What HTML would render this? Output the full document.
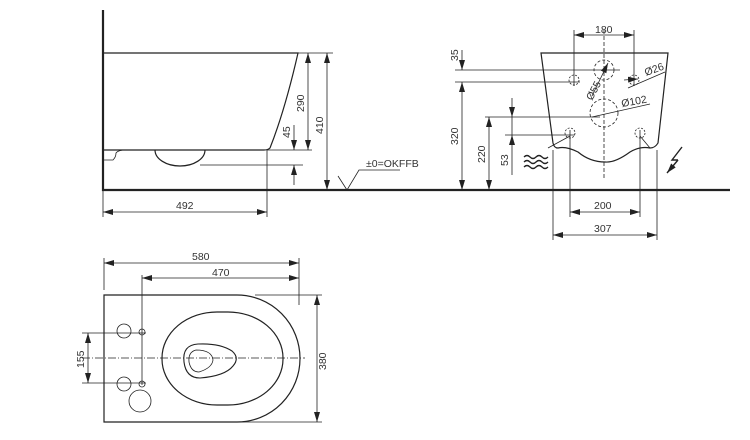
<!DOCTYPE html>
<html><head><style>body{margin:0;background:#fff}svg{display:block}text{font-family:"Liberation Sans",sans-serif;font-size:10.5px;fill:#333}</style></head><body>
<svg width="750" height="440" viewBox="0 0 750 440" xmlns="http://www.w3.org/2000/svg">
<defs><marker id="a" viewBox="0 0 10 6" refX="10" refY="3" markerWidth="10" markerHeight="6" orient="auto-start-reverse" markerUnits="userSpaceOnUse"><path d="M0,0L10,3L0,6z" fill="#222"/></marker></defs>
<g stroke="#222" fill="none" stroke-width="0.8">
<path d="M103,10V190H730" stroke-width="2.2"/>
<path d="M103,53H298Q285,110 270,148Q268,150 264,150H103" stroke-width="1.2"/>
<path d="M155,150A25,16 0 0 0 205,150" stroke-width="1.2"/>
<path d="M103,160H113Q116,157 116,153Q118,150 126,150"/>
<path d="M298,53H333M267,150H312M200,165H303M267,150V217"/>
<line x1="308" y1="53" x2="308" y2="150" marker-start="url(#a)" marker-end="url(#a)"/>
<line x1="327" y1="53" x2="327" y2="190" marker-start="url(#a)" marker-end="url(#a)"/>
<line x1="294" y1="125" x2="294" y2="150" marker-end="url(#a)"/>
<line x1="294" y1="185" x2="294" y2="165" marker-end="url(#a)"/>
<line x1="103" y1="212" x2="267" y2="212" marker-start="url(#a)" marker-end="url(#a)"/>
<path d="M103,190V217"/>
<path d="M338,176L347,190L359,170H400"/>
<path d="M541,53H668L658,143Q655,148 650,148Q640,146 630,152Q615,163 605,162Q590,162 578,152Q566,146 558,148Q554,148 553,143Z" stroke-width="1.2"/>
<path d="M604,30V178" stroke-dasharray="4,2"/>
<path d="M574,30V86M634,30V86M455,70H620M455,82H580M485,117H600M505,135H575M570,130V217M640,130V217M553,150V240M657,150V240"/>
<line x1="574" y1="35" x2="634" y2="35" marker-start="url(#a)" marker-end="url(#a)"/>
<circle cx="574" cy="80" r="5" stroke-dasharray="2,1.5"/><circle cx="634" cy="80" r="5" stroke-dasharray="2,1.5"/>
<circle cx="604" cy="70" r="10" stroke-dasharray="3,2"/><circle cx="604" cy="113" r="14" stroke-dasharray="3,2"/>
<circle cx="570" cy="133" r="5" stroke-dasharray="2,1.5"/><circle cx="640" cy="133" r="5" stroke-dasharray="2,1.5"/>
<line x1="592" y1="96" x2="608" y2="63" marker-end="url(#a)"/>
<path d="M628,88L665,72M592,117L650,104M548,148L570,136M650,148L640,136"/>
<line x1="624" y1="80" x2="638" y2="79" marker-end="url(#a)"/>
<line x1="462" y1="50" x2="462" y2="70" marker-end="url(#a)"/>
<line x1="462" y1="82" x2="462" y2="190" marker-start="url(#a)" marker-end="url(#a)"/>
<line x1="489" y1="117" x2="489" y2="190" marker-start="url(#a)" marker-end="url(#a)"/>
<line x1="512" y1="98" x2="512" y2="117" marker-end="url(#a)"/>
<line x1="512" y1="175" x2="512" y2="135" marker-end="url(#a)"/>
<line x1="512" y1="117" x2="512" y2="135"/>
<line x1="570" y1="212" x2="640" y2="212" marker-start="url(#a)" marker-end="url(#a)"/>
<line x1="553" y1="235" x2="657" y2="235" marker-start="url(#a)" marker-end="url(#a)"/>
<path d="M524,157q3,-3 6,0t6,0t6,0t6,0M524,162q3,-3 6,0t6,0t6,0t6,0M524,167q3,-3 6,0t6,0t6,0t6,0" stroke-width="1.3"/>
<path d="M682,147L672,160L678,160" stroke-width="1.4"/>
<line x1="678" y1="160" x2="667" y2="173" stroke-width="1.4" marker-end="url(#a)"/>
<path d="M104,295H237A63,63.5 0 0 1 237,422H104Z" stroke-width="1.2"/>
<rect x="162" y="312" width="121" height="93" rx="55" ry="46" stroke-width="1.2"/>
<path d="M198,344Q182,345 184,362Q186,378 200,378Q225,376 233,366Q240,358 232,351Q220,343 198,344Z" stroke-width="1.1"/>
<path d="M196,350Q188,352 189,362Q191,372 199,372Q212,368 213,360Q212,350 196,350Z"/>
<path d="M82,358H305" stroke-dasharray="8,2,1,2"/>
<path d="M104,258V290M142,275V385M299,258V305M255,295H322M237,422H322M82,333H146M82,383H146"/>
<line x1="104" y1="263" x2="299" y2="263" marker-start="url(#a)" marker-end="url(#a)"/>
<line x1="142" y1="278" x2="299" y2="278" marker-start="url(#a)" marker-end="url(#a)"/>
<line x1="317" y1="295" x2="317" y2="422" marker-start="url(#a)" marker-end="url(#a)"/>
<line x1="88" y1="333" x2="88" y2="383" marker-start="url(#a)" marker-end="url(#a)"/>
<circle cx="124" cy="331" r="7"/><circle cx="142" cy="332" r="3"/>
<circle cx="124" cy="384" r="7"/><circle cx="142" cy="384" r="3"/>
<circle cx="140" cy="401" r="11"/>
</g>
<text x="176" y="209">492</text>
<text x="304" y="112" transform="rotate(-90 304 112)">290</text>
<text x="323" y="134" transform="rotate(-90 323 134)">410</text>
<text x="290" y="138" transform="rotate(-90 290 138)">45</text>
<text x="366" y="167">±0=OKFFB</text>
<text x="595" y="33">180</text>
<text x="458" y="61" transform="rotate(-90 458 61)">35</text>
<text x="458" y="145" transform="rotate(-90 458 145)">320</text>
<text x="485" y="163" transform="rotate(-90 485 163)">220</text>
<text x="508" y="166" transform="rotate(-90 508 166)">53</text>
<text x="592" y="101" transform="rotate(-62 592 101)">Ø55</text>
<text x="646" y="76" transform="rotate(-20 646 76)">Ø26</text>
<text x="622" y="107" transform="rotate(-10 622 107)">Ø102</text>
<text x="594" y="209">200</text>
<text x="594" y="232">307</text>
<text x="192" y="260">580</text>
<text x="212" y="276">470</text>
<text x="326" y="370" transform="rotate(-90 326 370)">380</text>
<text x="84" y="368" transform="rotate(-90 84 368)">155</text>
</svg>
</body></html>
